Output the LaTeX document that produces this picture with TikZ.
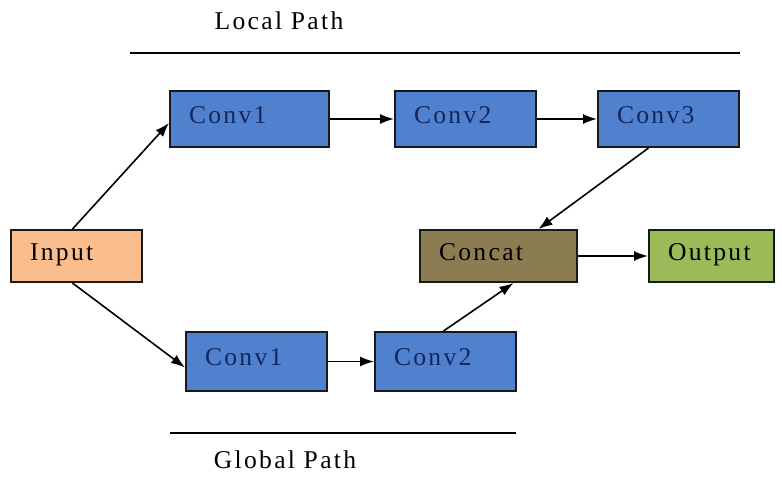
\documentclass[tikz,border=0pt]{standalone}
\usepackage{fontspec}
\setmainfont{Liberation Serif}[LetterSpace=9]
\usetikzlibrary{arrows.meta}

\definecolor{convblue}{RGB}{79,129,206}
\definecolor{inorange}{RGB}{250,190,142}
\definecolor{catolive}{RGB}{140,124,82}
\definecolor{outgreen}{RGB}{155,187,89}
\definecolor{convtext}{RGB}{22,38,88}

\begin{document}
\begin{tikzpicture}[x=0.5pt, y=-0.5pt,
    blk/.style={draw=black!90, line width=1pt, align=left, inner xsep=9.5pt,
        inner ysep=0pt, text height=8.5pt, text depth=4.5pt},
    conv/.style={blk, fill=convblue, text=convtext, text width=51.5pt, minimum height=28pt},
    arr/.style={-{Latex[length=7pt,width=5pt]}, line width=0.8pt},
    every node/.append style={font=\fontsize{12.8}{14}\selectfont}]
\useasboundingbox (0,0) rectangle (782,499);
\path (279,21) node (lp) {Local Path}
      (285,460) node (gp) {Global Path};
\draw[line width=0.9pt] (130,53) -- (740,53)
      (170,433) -- (516,433);
\path (76.5,256) node[blk, fill=inorange, text width=46.5pt, minimum height=26pt] (inp) {Input}
      (249.5,119) node[conv, text width=60.5pt] (c1a) {Conv1}
      (465.5,119) node[conv] (c2a) {Conv2}
      (668.5,119) node[conv] (c3a) {Conv3}
      (256.5,361.5) node[conv, minimum height=29.5pt] (c1b) {Conv1}
      (445.5,361.5) node[conv, minimum height=29.5pt] (c2b) {Conv2}
      (498.5,256) node[blk, fill=catolive, text width=59.5pt, minimum height=26pt] (cat) {Concat}
      (711.5,256) node[blk, fill=outgreen, text width=43.5pt, minimum height=26pt] (out) {Output};
\path[arr] ([xshift=-2pt]inp.north) edge ([yshift=-2pt]c1a.west)
      ([xshift=-2pt]inp.south) edge ([yshift=-3pt]c1b.west)
      (c1a.east) edge (c2a.west)
      (c2a.east) edge (c3a.west)
      (c1b.east) edge (c2b.west)
      ([xshift=-10pt]c3a.south) edge ([xshift=20pt]cat.north)
      ([xshift=-1pt]c2b.north) edge ([xshift=7.5pt]cat.south)
      (cat.east) edge (out.west);
\end{tikzpicture}
\end{document}
